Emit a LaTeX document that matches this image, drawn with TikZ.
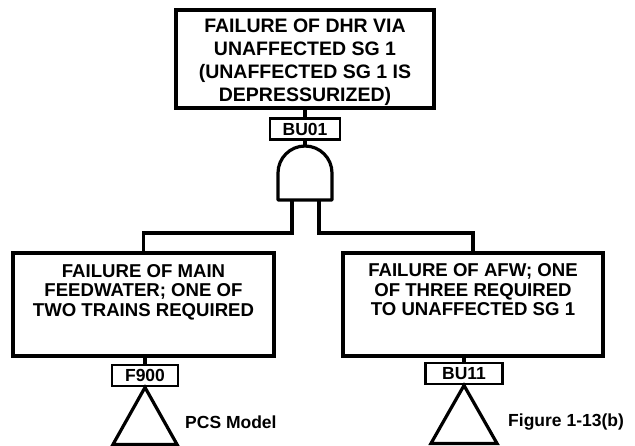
\documentclass[tikz,border=0pt]{standalone}
\usepackage{fontspec}
\setmainfont{Liberation Sans}
\begin{document}
\begin{tikzpicture}[x=1pt,y=-1pt,
  event/.style={draw, line width=3.2pt, inner sep=0pt},
  evtext/.style={align=center, inner sep=0pt},
  tag/.style={draw, line width=2.8pt, inner sep=0pt, minimum height=21pt,
    font=\fontsize{17.5}{17.5}\selectfont\bfseries},
  wire/.style={line width=3.2pt},
  note/.style={anchor=west, inner sep=0pt, font=\fontsize{17.5}{17.5}\selectfont\bfseries}
]
\useasboundingbox (0,0) rectangle (635,446);

% top event, its tag and the AND gate
\node[event, minimum width=258pt, minimum height=98pt] (top) at (305,59) {};
\node[evtext, font=\fontsize{19.5}{23}\selectfont\bfseries] at (305,62)
  {FAILURE OF DHR VIA\\UNAFFECTED SG 1\\(UNAFFECTED SG 1 IS\\DEPRESSURIZED)};
\node[tag, minimum width=70pt] (bu01) at (305,129) {BU01};

\coordinate (gin) at (305,146);
\coordinate (legL) at (292,200);
\coordinate (legR) at (319,200);
\coordinate (bus) at (0,233);
\draw[wire, line join=round] (278,200) -- (278,173) arc[start angle=180, end angle=0, radius=27pt]
  -- (332,200) -- cycle;

% basic events below the gate
\node[event, minimum width=261pt, minimum height=103pt] (left) at (143.5,304.5) {};
\node[evtext, font=\fontsize{18.6}{19.5}\selectfont\bfseries] at (143.5,292)
  {FAILURE OF MAIN\\FEEDWATER; ONE OF\\TWO TRAINS REQUIRED};
\node[event, minimum width=260pt, minimum height=103pt] (right) at (473,304.5) {};
\node[evtext, font=\fontsize{18.6}{19.5}\selectfont\bfseries] at (473,290)
  {FAILURE OF AFW; ONE\\OF THREE REQUIRED\\TO UNAFFECTED SG 1};

\node[tag, minimum width=66pt] (f900) at (145,375.5) {F900};
\node[tag, minimum width=77pt] (bu11) at (464,373.5) {BU11};

% transfer triangles
\draw[wire, line join=miter] (f900.south) -- ++(-32,57) -- ++(64,0) -- cycle;
\draw[wire, line join=miter] (bu11.south) -- ++(-33,58) -- ++(66,0) -- cycle;

\node[note] (pcs) at (185,422) {PCS Model};
\node[note] (fig) at (508,422) {Figure 1-13(b)};

% connectors
\draw[wire] (top.south -| bu01.north) -- (bu01.north);
\draw[wire] (bu01.south) -- (gin);
\draw[wire] (legL) -- (legL |- bus) -| (left.north);
\draw[wire] (legR) -- (legR |- bus) -| (right.north);
\draw[wire] (left.south -| f900.north) -- (f900.north);
\draw[wire] (right.south -| bu11.north) -- (bu11.north);
\end{tikzpicture}
\end{document}
